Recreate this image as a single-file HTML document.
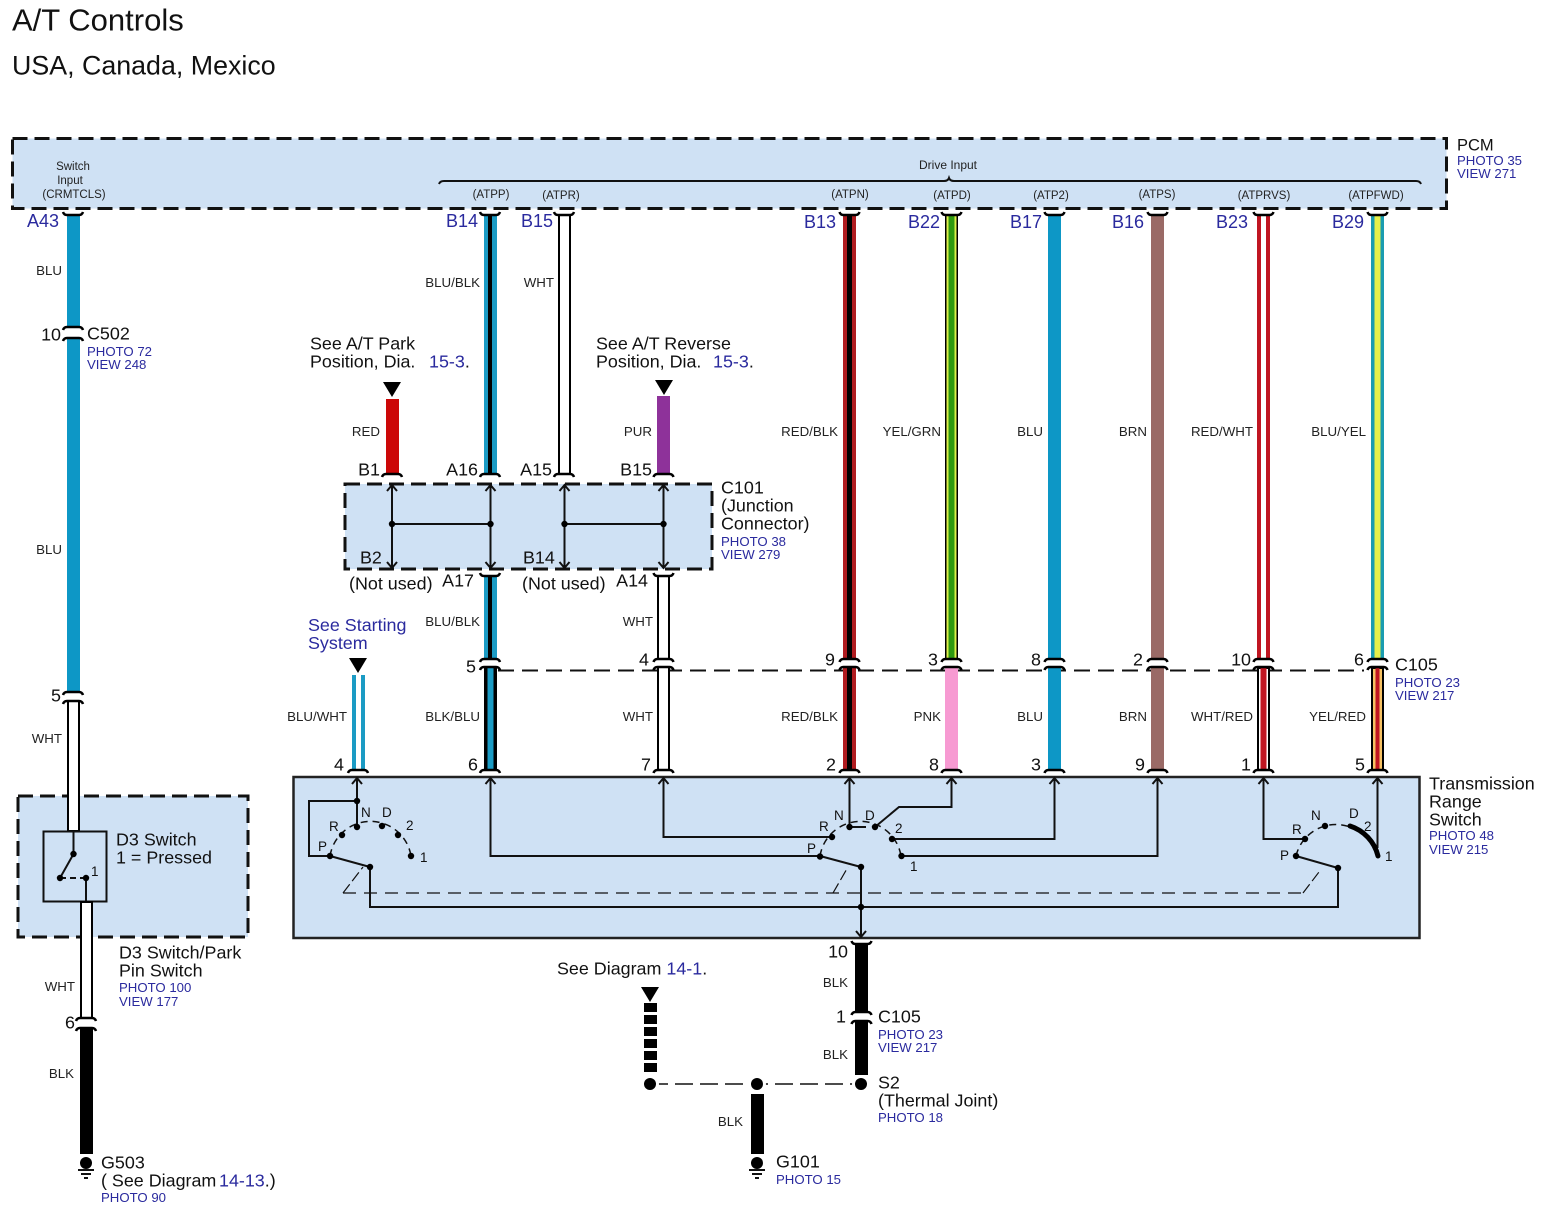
<!DOCTYPE html>
<html><head><meta charset="utf-8"><title>A/T Controls</title>
<style>
html,body{margin:0;padding:0;background:#fff}
svg{display:block}
text{font-family:"Liberation Sans",sans-serif;fill:#111;font-size:17.9px}
text:not([class]),text.e{transform:translateY(.7px)}
.s{font-size:13.3px;text-anchor:end;fill:#222}
.t{font-size:11.5px;text-anchor:middle;fill:#222}
.b{font-size:13.2px;fill:#2a2a9e}
.p{font-size:18px;fill:#2a2a9e;text-anchor:end}
.e{text-anchor:end}
.k{font-size:13.5px;fill:#111}
.u{fill:#2a2a9e}
.d{fill:#cfe1f4;stroke:#111;stroke-width:3;stroke-dasharray:15 7}
.w{fill:none;stroke:#111;stroke-width:2}
</style></head><body>
<svg width="1543" height="1223" viewBox="0 0 1543 1223" xmlns="http://www.w3.org/2000/svg">
<defs>
<path id="c" d="M-10 3Q-9 0-6 0H6Q9 0 10 3" fill="none" stroke="#000" stroke-width="2.5"/>
<path id="n" d="M-10-3Q-9 0-6 0H6Q9 0 10-3" fill="none" stroke="#000" stroke-width="2.5"/>
<path id="au" d="M-5 6L0 0L5 6" fill="none" stroke="#111" stroke-width="2"/>
<path id="ad" d="M-5-6L0 0L5-6" fill="none" stroke="#111" stroke-width="2"/>
<path id="tr" d="M-9 0H9L0 15Z" fill="#000"/>
<circle id="o" r="3.2" fill="#000"/>
</defs>
<rect width="1543" height="1223" fill="#fff"/>

<text x="12" y="30" style="font-size:31px">A/T Controls</text>
<text x="12" y="74" style="font-size:26.8px">USA, Canada, Mexico</text>

<!-- boxes -->
<rect x="12.5" y="138.5" width="1434" height="70" class="d"/>
<rect x="345" y="484" width="367" height="85" class="d"/>
<rect x="18" y="796" width="230" height="141" class="d"/>
<rect x="293.5" y="777" width="1126" height="161" fill="#cfe1f4" stroke="#222" stroke-width="2.5"/>

<!-- drive input bracket -->
<path class="w" d="M439 184Q440 181 444 181H944Q948 181 949 178Q950 181 954 181H1416Q1420 181 1421 184"/>

<!-- dashed C105 -->
<path d="M498 670.5H1364" stroke="#111" stroke-width="2" stroke-dasharray="16 8" fill="none"/>

<!-- A43 -->
<rect x="67" y="215" width="13" height="112" fill="#0d97c6"/>
<rect x="67" y="338" width="13" height="354" fill="#0d97c6"/>
<rect x="68" y="701" width="11" height="130" fill="#fff" stroke="#000" stroke-width="2"/>
<use href="#n" x="73" y="215"/><use href="#c" x="73" y="327"/><use href="#c" x="73" y="338"/><use href="#c" x="73" y="692"/><use href="#c" x="73" y="701"/>

<!-- D3 -->
<rect x="43.5" y="831.5" width="63" height="70" fill="#cfe1f4" stroke="#111" stroke-width="2"/>
<path class="w" d="M73.5 832V854L60 878M86 878V901"/>
<path class="w" d="M60 878H86" stroke-dasharray="6 4"/>
<use href="#o" x="73.5" y="854"/><use href="#o" x="60" y="878"/><use href="#o" x="86" y="878"/>
<text x="91" y="876" class="k">1</text>
<rect x="81" y="902" width="11" height="116" fill="#fff" stroke="#000" stroke-width="2"/>
<rect x="80" y="1028" width="13" height="126" fill="#000"/>
<use href="#c" x="86" y="1018"/><use href="#c" x="86" y="1028"/>
<circle cx="86" cy="1163" r="9" fill="#fff"/><circle cx="86" cy="1163" r="6" fill="#000"/>
<path class="w" d="M78 1170H94M81 1174H91M84 1178H88" stroke-width="1.5"/>

<!-- B14 -->
<rect x="484" y="215" width="13" height="259" fill="#1b9bc4"/><rect x="488" y="215" width="4" height="259" fill="#000"/>
<use href="#n" x="490" y="215"/><use href="#c" x="490" y="474"/>
<rect x="484" y="576" width="13" height="83" fill="#1b9bc4"/><rect x="488" y="576" width="4" height="83" fill="#000"/>
<use href="#n" x="490" y="576"/><use href="#c" x="490" y="659"/>
<rect x="484" y="667" width="13" height="103" fill="#000"/><rect x="487.5" y="667" width="6" height="103" fill="#1b9bc4"/>
<use href="#c" x="490" y="667"/><use href="#c" x="490" y="770"/>

<!-- B15 -->
<rect x="559" y="215" width="11" height="259" fill="#fff" stroke="#000" stroke-width="2"/>
<use href="#n" x="564" y="215"/><use href="#c" x="564" y="474"/>

<!-- B1, B15 stubs -->
<rect x="386" y="399" width="13" height="75" fill="#cc0808"/><use href="#c" x="392" y="474"/><use href="#tr" x="392" y="382"/>
<rect x="657" y="396" width="13" height="78" fill="#8e329a"/><use href="#c" x="663.5" y="474"/><use href="#tr" x="664" y="380"/>

<!-- A14 -->
<rect x="658" y="576" width="11" height="83" fill="#fff" stroke="#000" stroke-width="2"/>
<use href="#n" x="663.5" y="576"/><use href="#c" x="663.5" y="659"/>
<rect x="658" y="667" width="11" height="103" fill="#fff" stroke="#000" stroke-width="2"/>
<use href="#c" x="663.5" y="667"/><use href="#c" x="663.5" y="770"/>

<!-- starting -->
<rect x="352" y="675" width="4" height="95" fill="#1b9bc4"/><rect x="361" y="675" width="4" height="95" fill="#1b9bc4"/>
<use href="#c" x="358" y="770"/><use href="#tr" x="358" y="658"/>

<!-- B13 -->
<rect x="843" y="215" width="13" height="444" fill="#b01c20"/><rect x="847" y="215" width="5" height="444" fill="#000"/>
<rect x="843" y="667" width="13" height="103" fill="#b01c20"/><rect x="847" y="667" width="5" height="103" fill="#000"/>
<use href="#n" x="849.5" y="215"/><use href="#c" x="849.5" y="659"/><use href="#c" x="849.5" y="667"/><use href="#c" x="849.5" y="770"/>
<!-- B22 -->
<rect x="945" y="215" width="13" height="444" fill="#000"/><rect x="946.5" y="215" width="10" height="444" fill="#dcf04a"/><rect x="948.5" y="215" width="6" height="444" fill="#2f9a10"/>
<rect x="945" y="667" width="13" height="103" fill="#f79ad2"/>
<use href="#n" x="951.5" y="215"/><use href="#c" x="951.5" y="659"/><use href="#c" x="951.5" y="667"/><use href="#c" x="951.5" y="770"/>
<!-- B17 -->
<rect x="1048" y="215" width="13" height="444" fill="#0d97c6"/><rect x="1048" y="667" width="13" height="103" fill="#0d97c6"/>
<use href="#n" x="1054.5" y="215"/><use href="#c" x="1054.5" y="659"/><use href="#c" x="1054.5" y="667"/><use href="#c" x="1054.5" y="770"/>
<!-- B16 -->
<rect x="1151" y="215" width="13" height="444" fill="#9a6a66"/><rect x="1151" y="667" width="13" height="103" fill="#9a6a66"/>
<use href="#n" x="1157.5" y="215"/><use href="#c" x="1157.5" y="659"/><use href="#c" x="1157.5" y="667"/><use href="#c" x="1157.5" y="770"/>
<!-- B23 -->
<rect x="1257" y="215" width="13" height="444" fill="#c01622"/><rect x="1261" y="215" width="5" height="444" fill="#fff"/>
<rect x="1258" y="668" width="11" height="102" fill="#fff" stroke="#000" stroke-width="2"/><rect x="1260.5" y="668" width="6" height="102" fill="#c01622"/>
<use href="#n" x="1263.5" y="215"/><use href="#c" x="1263.5" y="659"/><use href="#c" x="1263.5" y="667"/><use href="#c" x="1263.5" y="770"/>
<!-- B29 -->
<rect x="1371" y="215" width="13" height="444" fill="#1a9cb0"/><rect x="1374.5" y="215" width="6" height="444" fill="#e6f04a"/>
<rect x="1372" y="668" width="11" height="102" fill="#f6c264" stroke="#000" stroke-width="2"/><rect x="1375.5" y="668" width="4" height="102" fill="#c01622"/>
<use href="#n" x="1377.5" y="215"/><use href="#c" x="1377.5" y="659"/><use href="#c" x="1377.5" y="667"/><use href="#c" x="1377.5" y="770"/>

<!-- C101 internal -->
<path class="w" d="M392 485V568M490.5 485V568M564.5 485V568M663.5 485V568M392 524H490.5M564.5 524H663.5"/>
<use href="#au" x="392" y="485"/><use href="#ad" x="392" y="568"/>
<use href="#au" x="490.5" y="485"/><use href="#ad" x="490.5" y="568"/>
<use href="#au" x="564.5" y="485"/><use href="#ad" x="564.5" y="568"/>
<use href="#au" x="663.5" y="485"/><use href="#ad" x="663.5" y="568"/>
<use href="#o" x="392" y="524"/><use href="#o" x="490.5" y="524"/><use href="#o" x="564.5" y="524"/><use href="#o" x="663.5" y="524"/>

<!-- Trans range -->
<path d="M343 893H1303" fill="none" stroke="#111" stroke-width="1.2" stroke-dasharray="13 8"/>
<path d="M343 893L363 867M833 893L848 867M1303 893L1319 872" fill="none" stroke="#111" stroke-width="1.2" stroke-dasharray="11 4"/>
<path d="M330 856A41 41 0 0 1 411 856M820 856A41 41 0 0 1 901 856M1296 856A41 41 0 0 1 1350 827" fill="none" stroke="#111" stroke-width="1.5" stroke-dasharray="7 5"/>
<path class="w" d="M357 778V827M357 801H309V856H330M370 867L330 856M370 867V907H1338V868L1296 856"/>
<path class="w" d="M490.5 778V856H820M663.5 778V837H832M849.5 778V827H866M875 827L899 807H951.5V778M892 839H1054.5V778M901 856H1157.5V778M861 867L820 856M861 867V938"/>
<path class="w" d="M1263.5 778V839H1305M1377.5 778V848"/>
<path d="M1350 826A42 42 0 0 1 1378 856" fill="none" stroke="#000" stroke-width="5" stroke-linecap="round"/>
<g>
<use href="#au" x="357" y="778"/><use href="#au" x="490.5" y="778"/><use href="#au" x="663.5" y="778"/><use href="#au" x="849.5" y="778"/><use href="#au" x="951.5" y="778"/><use href="#au" x="1054.5" y="778"/><use href="#au" x="1157.5" y="778"/><use href="#au" x="1263.5" y="778"/><use href="#au" x="1377.5" y="778"/>
<use href="#ad" x="861" y="937"/>
<use href="#o" x="357" y="801"/><use href="#o" x="330" y="856"/><use href="#o" x="342" y="835"/><use href="#o" x="357" y="827"/><use href="#o" x="382" y="826"/><use href="#o" x="398" y="835"/><use href="#o" x="411" y="856"/><use href="#o" x="370" y="867"/>
<use href="#o" x="820" y="856.5"/><use href="#o" x="832" y="837"/><use href="#o" x="849.5" y="827"/><use href="#o" x="875" y="827"/><use href="#o" x="892" y="839"/><use href="#o" x="901.5" y="856"/><use href="#o" x="861" y="867"/><use href="#o" x="861" y="907"/>
<use href="#o" x="1296" y="856"/><use href="#o" x="1305" y="839"/><use href="#o" x="1325" y="826"/><use href="#o" x="1338" y="868"/>
</g>
<g class="k">
<text class="k" x="361" y="817">N</text><text class="k" x="382" y="817">D</text><text class="k" x="329" y="831">R</text><text class="k" x="318" y="851">P</text><text class="k" x="406" y="830">2</text><text class="k" x="420" y="862">1</text>
<text class="k" x="834" y="820">N</text><text class="k" x="865" y="820">D</text><text class="k" x="819" y="831">R</text><text class="k" x="807" y="853">P</text><text class="k" x="895" y="833">2</text><text class="k" x="910" y="871">1</text>
<text class="k" x="1311" y="820">N</text><text class="k" x="1349" y="818">D</text><text class="k" x="1292" y="834">R</text><text class="k" x="1280" y="860">P</text><text class="k" x="1364" y="831">2</text><text class="k" x="1385" y="861">1</text>
</g>

<!-- bottom wires -->
<rect x="855" y="944" width="13" height="68" fill="#000"/><rect x="855" y="1021" width="13" height="54" fill="#000"/>
<use href="#n" x="861.5" y="944"/><use href="#c" x="861.5" y="1012"/><use href="#c" x="861.5" y="1021"/>
<use href="#tr" x="650" y="987"/>
<path d="M650.5 1003V1075" stroke="#000" stroke-width="13" stroke-dasharray="9 3" fill="none"/>
<rect x="751" y="1094" width="13" height="60" fill="#000"/>
<path d="M650 1084H861" stroke="#111" stroke-width="1.5" stroke-dasharray="18 7" fill="none"/>
<circle cx="650" cy="1084" r="9" fill="#fff"/><circle cx="757" cy="1084" r="9" fill="#fff"/><circle cx="861" cy="1084" r="9" fill="#fff"/>
<circle cx="650" cy="1084" r="6" fill="#000"/><circle cx="757" cy="1084" r="6" fill="#000"/><circle cx="861" cy="1084" r="6" fill="#000"/>
<circle cx="757" cy="1163" r="9" fill="#fff"/><circle cx="757" cy="1163" r="6" fill="#000"/>
<path class="w" d="M749 1170H765M752 1174H762M755 1178H759" stroke-width="1.5"/>

<!-- PCM text -->
<text x="73" y="170" class="t">Switch</text><text x="70" y="184" class="t">Input</text><text x="74" y="198" class="t">(CRMTCLS)</text>
<text x="948" y="169" class="t" style="font-size:12px">Drive Input</text>
<text x="491" y="198" class="t">(ATPP)</text><text x="561" y="199" class="t">(ATPR)</text><text x="850" y="198" class="t">(ATPN)</text><text x="952" y="199" class="t">(ATPD)</text><text x="1051" y="199" class="t">(ATP2)</text><text x="1157" y="198" class="t">(ATPS)</text><text x="1264" y="199" class="t">(ATPRVS)</text><text x="1376" y="199" class="t">(ATPFWD)</text>
<text x="1457" y="150" style="font-size:16.5px">PCM</text><text x="1457" y="165" class="b">PHOTO 35</text><text x="1457" y="178" class="b">VIEW 271</text>

<!-- blue pins -->
<text x="59" y="227" class="p">A43</text><text x="478" y="227" class="p">B14</text><text x="553" y="227" class="p">B15</text><text x="836" y="228" class="p">B13</text><text x="940" y="228" class="p">B22</text><text x="1042" y="228" class="p">B17</text><text x="1144" y="228" class="p">B16</text><text x="1248" y="228" class="p">B23</text><text x="1364" y="228" class="p">B29</text>

<!-- wire labels -->
<text x="62" y="275" class="s">BLU</text><text x="480" y="287" class="s">BLU/BLK</text><text x="554" y="287" class="s">WHT</text><text x="62" y="554" class="s">BLU</text>
<text x="380" y="436" class="s">RED</text><text x="652" y="436" class="s">PUR</text><text x="838" y="436" class="s">RED/BLK</text><text x="941" y="436" class="s">YEL/GRN</text><text x="1043" y="436" class="s">BLU</text><text x="1147" y="436" class="s">BRN</text><text x="1253" y="436" class="s">RED/WHT</text><text x="1366" y="436" class="s">BLU/YEL</text>
<text x="480" y="626" class="s">BLU/BLK</text><text x="653" y="626" class="s">WHT</text>
<text x="347" y="721" class="s">BLU/WHT</text><text x="480" y="721" class="s">BLK/BLU</text><text x="653" y="721" class="s">WHT</text><text x="838" y="721" class="s">RED/BLK</text><text x="941" y="721" class="s">PNK</text><text x="1043" y="721" class="s">BLU</text><text x="1147" y="721" class="s">BRN</text><text x="1253" y="721" class="s">WHT/RED</text><text x="1366" y="721" class="s">YEL/RED</text>
<text x="62" y="743" class="s">WHT</text><text x="75" y="991" class="s">WHT</text><text x="74" y="1078" class="s">BLK</text><text x="848" y="987" class="s">BLK</text><text x="848" y="1059" class="s">BLK</text><text x="743" y="1126" class="s">BLK</text>

<!-- left -->
<text x="61" y="340" class="e">10</text><text x="87" y="339">C502</text><text x="87" y="356" class="b">PHOTO 72</text><text x="87" y="369" class="b">VIEW 248</text>
<text x="61" y="701" class="e">5</text><text x="75" y="1028" class="e">6</text>
<text x="116" y="845">D3 Switch</text><text x="116" y="863">1 = Pressed</text>
<text x="119" y="958">D3 Switch/Park</text><text x="119" y="976">Pin Switch</text><text x="119" y="992" class="b">PHOTO 100</text><text x="119" y="1006" class="b">VIEW 177</text>
<text x="101" y="1168">G503</text><text x="101" y="1186">( See Diagram</text><text x="219" y="1186"><tspan class="u">14-13</tspan>.)</text><text x="101" y="1202" class="b">PHOTO 90</text>

<!-- C101 text -->
<text x="310" y="349">See A/T Park</text><text x="310" y="367">Position, Dia.</text><text x="429" y="367"><tspan class="u">15-3</tspan>.</text>
<text x="596" y="349">See A/T Reverse</text><text x="596" y="367">Position, Dia.</text><text x="713" y="367"><tspan class="u">15-3</tspan>.</text>
<text x="380" y="475" class="e">B1</text><text x="478" y="475" class="e">A16</text><text x="552" y="475" class="e">A15</text><text x="652" y="475" class="e">B15</text>
<text x="360" y="563">B2</text><text x="523" y="563">B14</text>
<text x="349" y="589">(Not used)</text><text x="522" y="589">(Not used)</text>
<text x="474" y="586" class="e">A17</text><text x="648" y="586" class="e">A14</text>
<text x="721" y="493">C101</text><text x="721" y="511">(Junction</text><text x="721" y="529">Connector)</text><text x="721" y="546" class="b">PHOTO 38</text><text x="721" y="559" class="b">VIEW 279</text>
<text x="308" y="631" class="u">See Starting</text><text x="308" y="649" class="u">System</text>

<!-- C105 numbers -->
<text x="476" y="672" class="e">5</text><text x="649" y="665" class="e">4</text><text x="835" y="665" class="e">9</text><text x="938" y="665" class="e">3</text><text x="1041" y="665" class="e">8</text><text x="1143" y="665" class="e">2</text><text x="1251" y="665" class="e">10</text><text x="1364" y="665" class="e">6</text>
<text x="1395" y="670">C105</text><text x="1395" y="687" class="b">PHOTO 23</text><text x="1395" y="700" class="b">VIEW 217</text>
<text x="344" y="770" class="e">4</text><text x="478" y="770" class="e">6</text><text x="651" y="770" class="e">7</text><text x="836" y="770" class="e">2</text><text x="939" y="770" class="e">8</text><text x="1041" y="770" class="e">3</text><text x="1145" y="770" class="e">9</text><text x="1251" y="770" class="e">1</text><text x="1365" y="770" class="e">5</text>
<text x="1429" y="789">Transmission</text><text x="1429" y="807">Range</text><text x="1429" y="825">Switch</text><text x="1429" y="840" class="b">PHOTO 48</text><text x="1429" y="854" class="b">VIEW 215</text>

<!-- bottom text -->
<text x="557" y="974">See Diagram <tspan class="u">14-1</tspan>.</text>
<text x="848" y="957" class="e">10</text><text x="846" y="1022" class="e">1</text><text x="878" y="1022">C105</text><text x="878" y="1039" class="b">PHOTO 23</text><text x="878" y="1052" class="b">VIEW 217</text>
<text x="878" y="1088">S2</text><text x="878" y="1106">(Thermal Joint)</text><text x="878" y="1122" class="b">PHOTO 18</text>
<text x="776" y="1167">G101</text><text x="776" y="1184" class="b">PHOTO 15</text>
</svg>
</body></html>
